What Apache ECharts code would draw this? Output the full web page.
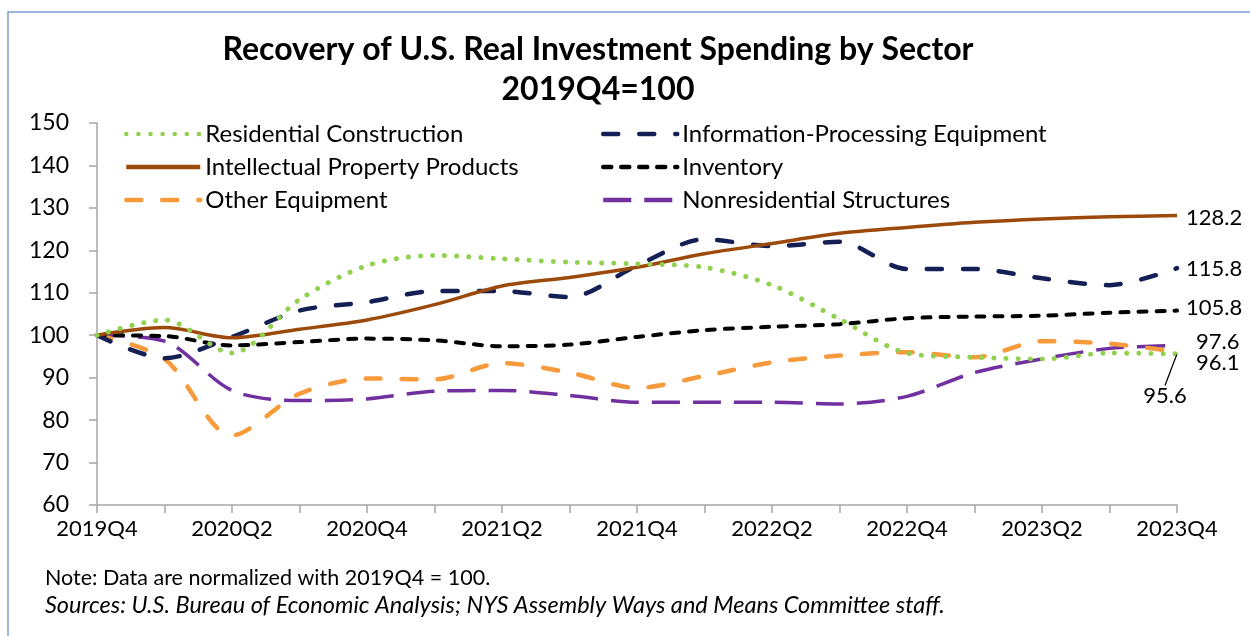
<!DOCTYPE html>
<html>
<head>
<meta charset="utf-8">
<script src="https://cdn.jsdelivr.net/npm/echarts@6/dist/echarts.min.js"></script>
<style>
  html, body { margin: 0; padding: 0; background: #fff; }
  #chart { width: 1250px; height: 636px; }
</style>
</head>
<body>
<div id="chart"></div>
<script>
const quarters = ['2019Q4', '2020Q1', '2020Q2', '2020Q3', '2020Q4', '2021Q1', '2021Q2', '2021Q3',
  '2021Q4', '2022Q1', '2022Q2', '2022Q3', '2022Q4', '2023Q1', '2023Q2', '2023Q3', '2023Q4']

// values, 2019Q4 = 100
const residential = [100, 103.6, 95.8, 108.4, 116.4, 118.8, 118, 117.2, 116.8, 116, 111.8, 103.8, 95.8, 94.8, 94.4, 95.8, 95.6]
const infoProcessing = [100, 94.6, 99.6, 105.8, 107.8, 110.4, 110.4, 109, 116.4, 122.6, 121, 122, 115.6, 115.6, 113.4, 111.8, 115.8]
const intellectual = [100, 101.8, 99.4, 101.4, 103.6, 107.2, 111.6, 113.6, 116, 119.2, 121.6, 124, 125.4, 126.6, 127.4, 127.9, 128.2]
const inventory = [100, 99.8, 97.6, 98.4, 99.2, 98.8, 97.4, 97.8, 99.6, 101.2, 102, 102.6, 104, 104.4, 104.6, 105.3, 105.8]
const otherEquipment = [100, 94.4, 76.4, 86.2, 89.8, 89.6, 93.4, 91.2, 87.6, 90.4, 93.6, 95.2, 96, 94.8, 98.6, 98, 96.1]
const nonresidential = [100, 98.6, 87, 84.6, 85, 86.8, 87, 85.8, 84.2, 84.2, 84.2, 83.8, 85.6, 91.2, 94.4, 96.9, 97.6]

const yTicks = { min: 60, max: 150, step: 10 }

const FONT = 'Lato'
const txt = { color: '#000', fontFamily: FONT, fontSize: 22 }

let myChart = echarts.init(document.getElementById('chart'))

function endLabel(dx, dy) {
  return {
    show: true,
    formatter: (p) => p.value.toFixed(1),
    distance: 9,
    offset: [dx, dy],
    ...txt,
  }
}

const last = quarters.length - 1

const legendBase = {
  orient: 'vertical',
  top: 117,
  itemWidth: 74,
  itemHeight: 14,
  itemGap: 9,
  itemStyle: { opacity: 0 },
  lineStyle: { width: 4.5 },
  textStyle: { ...txt, fontSize: 24, lineHeight: 24 },
}

let option = {
  animation: false,
  backgroundColor: '#fff',
  title: [
    {
      text: 'Recovery of U.S. Real Investment Spending by Sector\n2019Q4=100',
      left: 593,
      top: 25,
      textAlign: 'center',
      textStyle: { color: '#000', fontFamily: FONT, fontSize: 32, fontWeight: 'bold', lineHeight: 40 },
    },
    {
      text: 'Note: Data are normalized with 2019Q4 = 100.',
      left: 40,
      top: 562,
      textStyle: { color: '#000', fontFamily: FONT, fontSize: 21.5, fontWeight: 'normal' },
    },
    {
      text: 'Sources: U.S. Bureau of Economic Analysis; NYS Assembly Ways and Means Committee staff.',
      left: 40,
      top: 589,
      textStyle: { color: '#000', fontFamily: FONT, fontSize: 23.5, fontWeight: 'normal', fontStyle: 'italic' },
    },
  ],
  graphic: [
    {
      type: 'rect',
      shape: { x: 8, y: 12, width: 1400, height: 800 },
      style: { fill: 'none', stroke: '#7d9fd3', lineWidth: 1.5 },
      silent: true,
    },
  ],
  legend: [
    {
      ...legendBase,
      left: 119,
      data: ['Residential Construction', 'Intellectual Property Products', 'Other Equipment'],
    },
    {
      ...legendBase,
      left: 596,
      data: ['Information-Processing Equipment', 'Inventory', 'Nonresidential Structures'],
    },
  ],
  grid: {
    left: 97,
    right: 73,
    top: 123,
    bottom: 131,
    containLabel: false,
    outerBoundsMode: 'none',
  },
  xAxis: {
    type: 'category',
    boundaryGap: false,
    data: quarters,
    axisLine: { lineStyle: { color: '#a6a6a6', width: 1.5 } },
    axisTick: { interval: 0, length: 8, lineStyle: { color: '#a6a6a6', width: 1.5 } },
    axisLabel: { interval: 1, margin: 13, ...txt },
    splitLine: { show: false },
  },
  yAxis: {
    type: 'value',
    min: yTicks.min,
    max: yTicks.max,
    interval: yTicks.step,
    axisLine: { show: true, lineStyle: { color: '#a6a6a6', width: 1.5 } },
    axisTick: { show: true, length: 8, lineStyle: { color: '#a6a6a6', width: 1.5 } },
    axisLabel: { ...txt, fontSize: 23, margin: 28 },
    splitLine: { show: false },
  },
  series: [
    {
      name: 'Nonresidential Structures',
      type: 'line',
      data: nonresidential,
      smooth: 0.3,
      symbol: 'none',
      color: '#7030a0',
      lineStyle: { width: 3.5, type: [28, 13], color: '#7030a0' },
      endLabel: endLabel(10, -4),
    },
    {
      name: 'Other Equipment',
      type: 'line',
      data: otherEquipment,
      smooth: 0.3,
      symbol: 'none',
      color: '#f79a3b',
      lineStyle: { width: 4.5, type: [15, 21], cap: 'round', color: '#f79a3b' },
      endLabel: endLabel(10, 11),
    },
    {
      name: 'Inventory',
      type: 'line',
      data: inventory,
      smooth: 0.3,
      symbol: 'none',
      color: '#000000',
      lineStyle: { width: 4, type: [8, 10], cap: 'round', color: '#000000' },
      endLabel: endLabel(0, -3),
    },
    {
      name: 'Information-Processing Equipment',
      type: 'line',
      data: infoProcessing,
      smooth: 0.3,
      symbol: 'none',
      color: '#131f55',
      lineStyle: { width: 4.5, type: [15, 21], cap: 'round', color: '#131f55' },
      endLabel: endLabel(0, 1),
    },
    {
      name: 'Intellectual Property Products',
      type: 'line',
      data: intellectual,
      smooth: 0.3,
      symbol: 'none',
      color: '#9c4a0c',
      lineStyle: { width: 3.5, color: '#9c4a0c' },
      endLabel: endLabel(0, 2),
    },
    {
      name: 'Residential Construction',
      type: 'line',
      data: residential.map((v, i) =>
        i === last ? { value: v, label: { show: true, position: 'bottom', ...txt } } : v),
      smooth: 0.3,
      symbol: 'circle',
      symbolSize: 1,
      showSymbol: true,
      showAllSymbol: true,
      color: '#92d050',
      itemStyle: { color: '#92d050' },
      lineStyle: { width: 5, type: [0.1, 12], cap: 'round', color: '#92d050' },
      label: { show: false },
      labelLayout: { dx: -12, dy: 26 },
      labelLine: { show: true, lineStyle: { color: '#000', width: 1.3 } },
    },
  ],
}

myChart.setOption(option)
</script>
</body>
</html>
